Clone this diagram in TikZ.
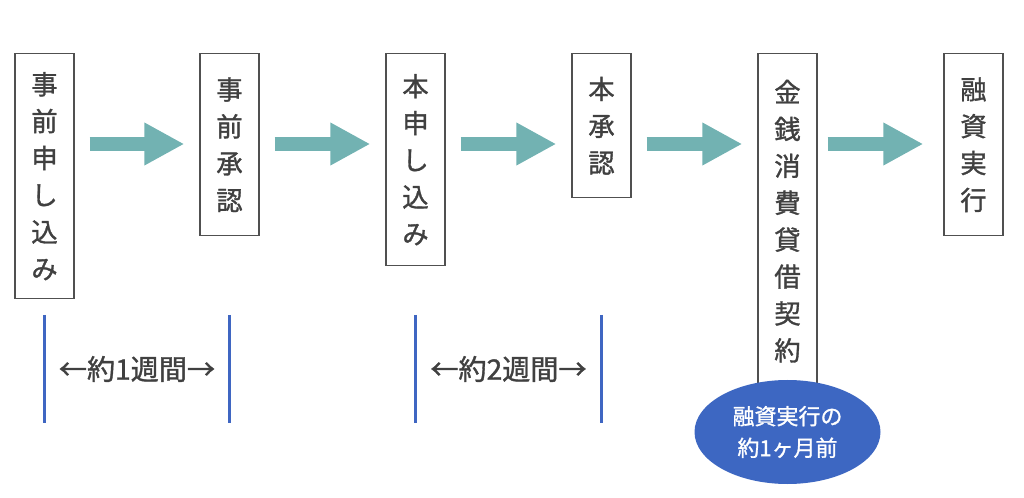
\documentclass[tikz,border=0pt]{standalone}
\usepackage{fontspec}
\newfontfamily\jp[FakeBold=1.2]{Noto Sans CJK JP}
\usepackage{tikz}
\usetikzlibrary{calc,arrows.meta,shapes.geometric}

\definecolor{textogris}{HTML}{404040}
\definecolor{bordegris}{HTML}{505050}
\definecolor{verdeazul}{HTML}{72B2B2}
\definecolor{azullinea}{HTML}{3F66C2}
\definecolor{azulfondo}{HTML}{3D67C2}

\begin{document}
\begin{tikzpicture}[
	paso/.style={draw=bordegris, line width=0.8pt, text=textogris, font=\jp\fontsize{15}{21}\selectfont,
		align=center, minimum width=1.18cm, inner sep=0pt, anchor=north},
	flecha/.style={draw=verdeazul, line width=0.28cm, -{Triangle[width=0.8cm,length=0.8cm]}},
	plazo/.style={draw=azullinea, line width=1.3pt},
	etiqueta/.style={text=textogris, font=\jp\fontsize{16}{18}\selectfont},
	aviso/.style={ellipse, fill=azulfondo, text=white, minimum width=3.72cm, minimum height=2.08cm,
		align=center, font=\jp\fontsize{12.5}{18}\selectfont}
]
	\useasboundingbox (0,0) rectangle (20.48,-9.96);

	% Pasos
	\node[paso, minimum height=4.9cm] (pre) at (0.89,-1.06) {事\\前\\申\\し\\込\\み};
	\node[paso, minimum height=3.64cm] (preok) at (4.59,-1.06) {事\\前\\承\\認};
	\node[paso, minimum height=4.24cm] (hon) at (8.31,-1.06) {本\\申\\し\\込\\み};
	\node[paso, minimum height=2.88cm] (honok) at (12.03,-1.06) {本\\承\\認};
	\node[paso, minimum height=6.7cm] (keiyaku) at (15.75,-1.06) {金\\銭\\消\\費\\貸\\借\\契\\約};
	\node[paso, minimum height=3.64cm] (jikko) at (19.47,-1.06) {融\\資\\実\\行};

	% Flechas entre pasos
	\coordinate (fy) at (0,-2.88);
	\foreach \a/\b in {pre/preok, preok/hon, hon/honok, honok/keiyaku}
		\draw[flecha] ($(\a.east |- fy)+(0.3,0)$) -- ($(\b.west |- fy)+(-0.3,0)$);
	\draw[flecha] ($(keiyaku.east |- fy)+(0.2,0)$) -- ($(jikko.west |- fy)+(-0.4,0)$);

	% Plazos
	\coordinate (ptop) at (0,-6.3);
	\coordinate (pbot) at (0,-8.46);
	\foreach \n in {pre, preok, hon, honok}
		\draw[plazo] (\n |- ptop) -- (\n |- pbot);
	\node[etiqueta] (sem1) at ($(pre |- 0,-7.38)!0.5!(preok |- 0,-7.38)$) {←約1週間→};
	\node[etiqueta] (sem2) at ($(hon |- 0,-7.38)!0.5!(honok |- 0,-7.38)$) {←約2週間→};

	% Aviso del contrato
	\node[aviso] (mes) at (15.75,-8.64) {融資実行の\\約1ヶ月前};
\end{tikzpicture}
\end{document}
